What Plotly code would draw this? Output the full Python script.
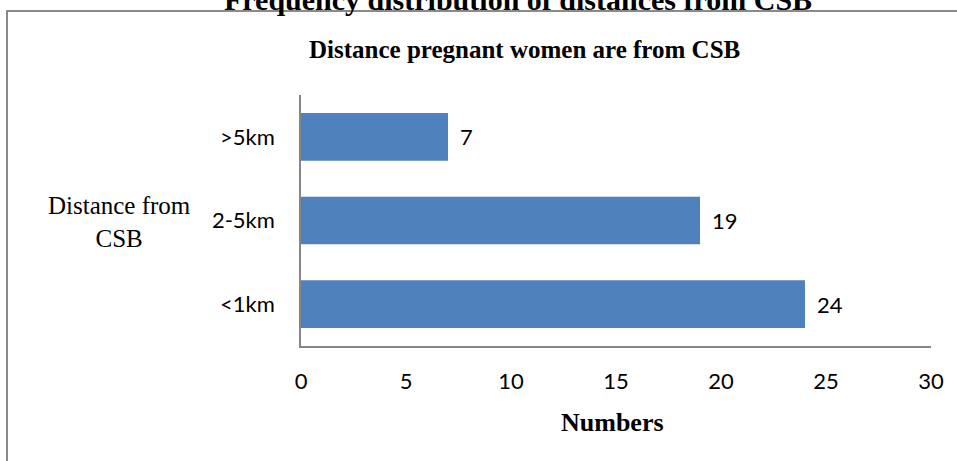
import plotly.graph_objects as go

categories = ["<1km", "2-5km", ">5km"]
values = [24, 19, 7]
x_ticks = [0, 5, 10, 15, 20, 25, 30]

W, H = 957, 461
L, R, T, B = 301, 26, 95, 115
pw, ph = W - L - R, H - T - B

def px(p):
    return (p - L) / pw

def py(p):
    return (H - B - p) / ph

SANS = "Lato, Open Sans, sans-serif"
SERIF = "Liberation Serif, Times New Roman, serif"

fig = go.Figure(go.Bar(
    x=values, y=categories, orientation="h",
    marker=dict(color="#4F81BD", line=dict(width=0)),
    hoverinfo="skip",
))

annotations = []
for c, v in zip(categories, values):
    annotations.append(dict(x=v, y=c, xref="x", yref="y", text=str(v), showarrow=False,
                            xanchor="left", xshift=10,
                            font=dict(family=SANS, size=22, color="#000")))

annotations += [
    dict(x=px(518), y=py(0), xref="paper", yref="paper", showarrow=False,
         text="<b>Frequency distribution of distances from CSB</b>", xanchor="center", yanchor="middle",
         font=dict(family=SERIF, size=30, color="#000")),
    dict(x=px(524), y=py(50), xref="paper", yref="paper", showarrow=False,
         text="<b>Distance pregnant women are from CSB</b>", xanchor="center", yanchor="middle",
         font=dict(family=SERIF, size=25, color="#000")),
    dict(x=px(119), y=py(222), xref="paper", yref="paper", showarrow=False,
         text="Distance from<br>CSB", xanchor="center", yanchor="middle", align="center",
         font=dict(family=SERIF, size=25, color="#000")),
    dict(x=px(612), y=py(422), xref="paper", yref="paper", showarrow=False,
         text="<b>Numbers</b>", xanchor="center", yanchor="middle",
         font=dict(family=SERIF, size=26, color="#000")),
]

shapes = [
    dict(type="line", xref="paper", yref="paper", x0=px(7), x1=px(965), y0=py(11), y1=py(11),
         line=dict(color="#8a8a8a", width=2)),
    dict(type="line", xref="paper", yref="paper", x0=px(7), x1=px(7), y0=py(10), y1=py(470),
         line=dict(color="#8a8a8a", width=2)),
]

fig.update_layout(
    width=W, height=H,
    margin=dict(l=L, r=R, t=T, b=B),
    paper_bgcolor="white", plot_bgcolor="white",
    bargap=0.43,
    showlegend=False,
    annotations=annotations,
    shapes=shapes,
    xaxis=dict(range=[0, 30], tickvals=x_ticks, showgrid=False, zeroline=False,
               showline=True, linecolor="#868686", linewidth=1.5, ticks="",
               ticklabelstandoff=15,
               tickfont=dict(family=SANS, size=22, color="#000")),
    yaxis=dict(showgrid=False, zeroline=False, showline=True, linecolor="#868686", linewidth=1.5,
               ticks="", ticklabelstandoff=20,
               tickfont=dict(family=SANS, size=22, color="#000")),
)

fig.write_html("out.html", config={"displayModeBar": False},
               post_script="document.body.style.margin='0';document.body.style.overflow='hidden';")
